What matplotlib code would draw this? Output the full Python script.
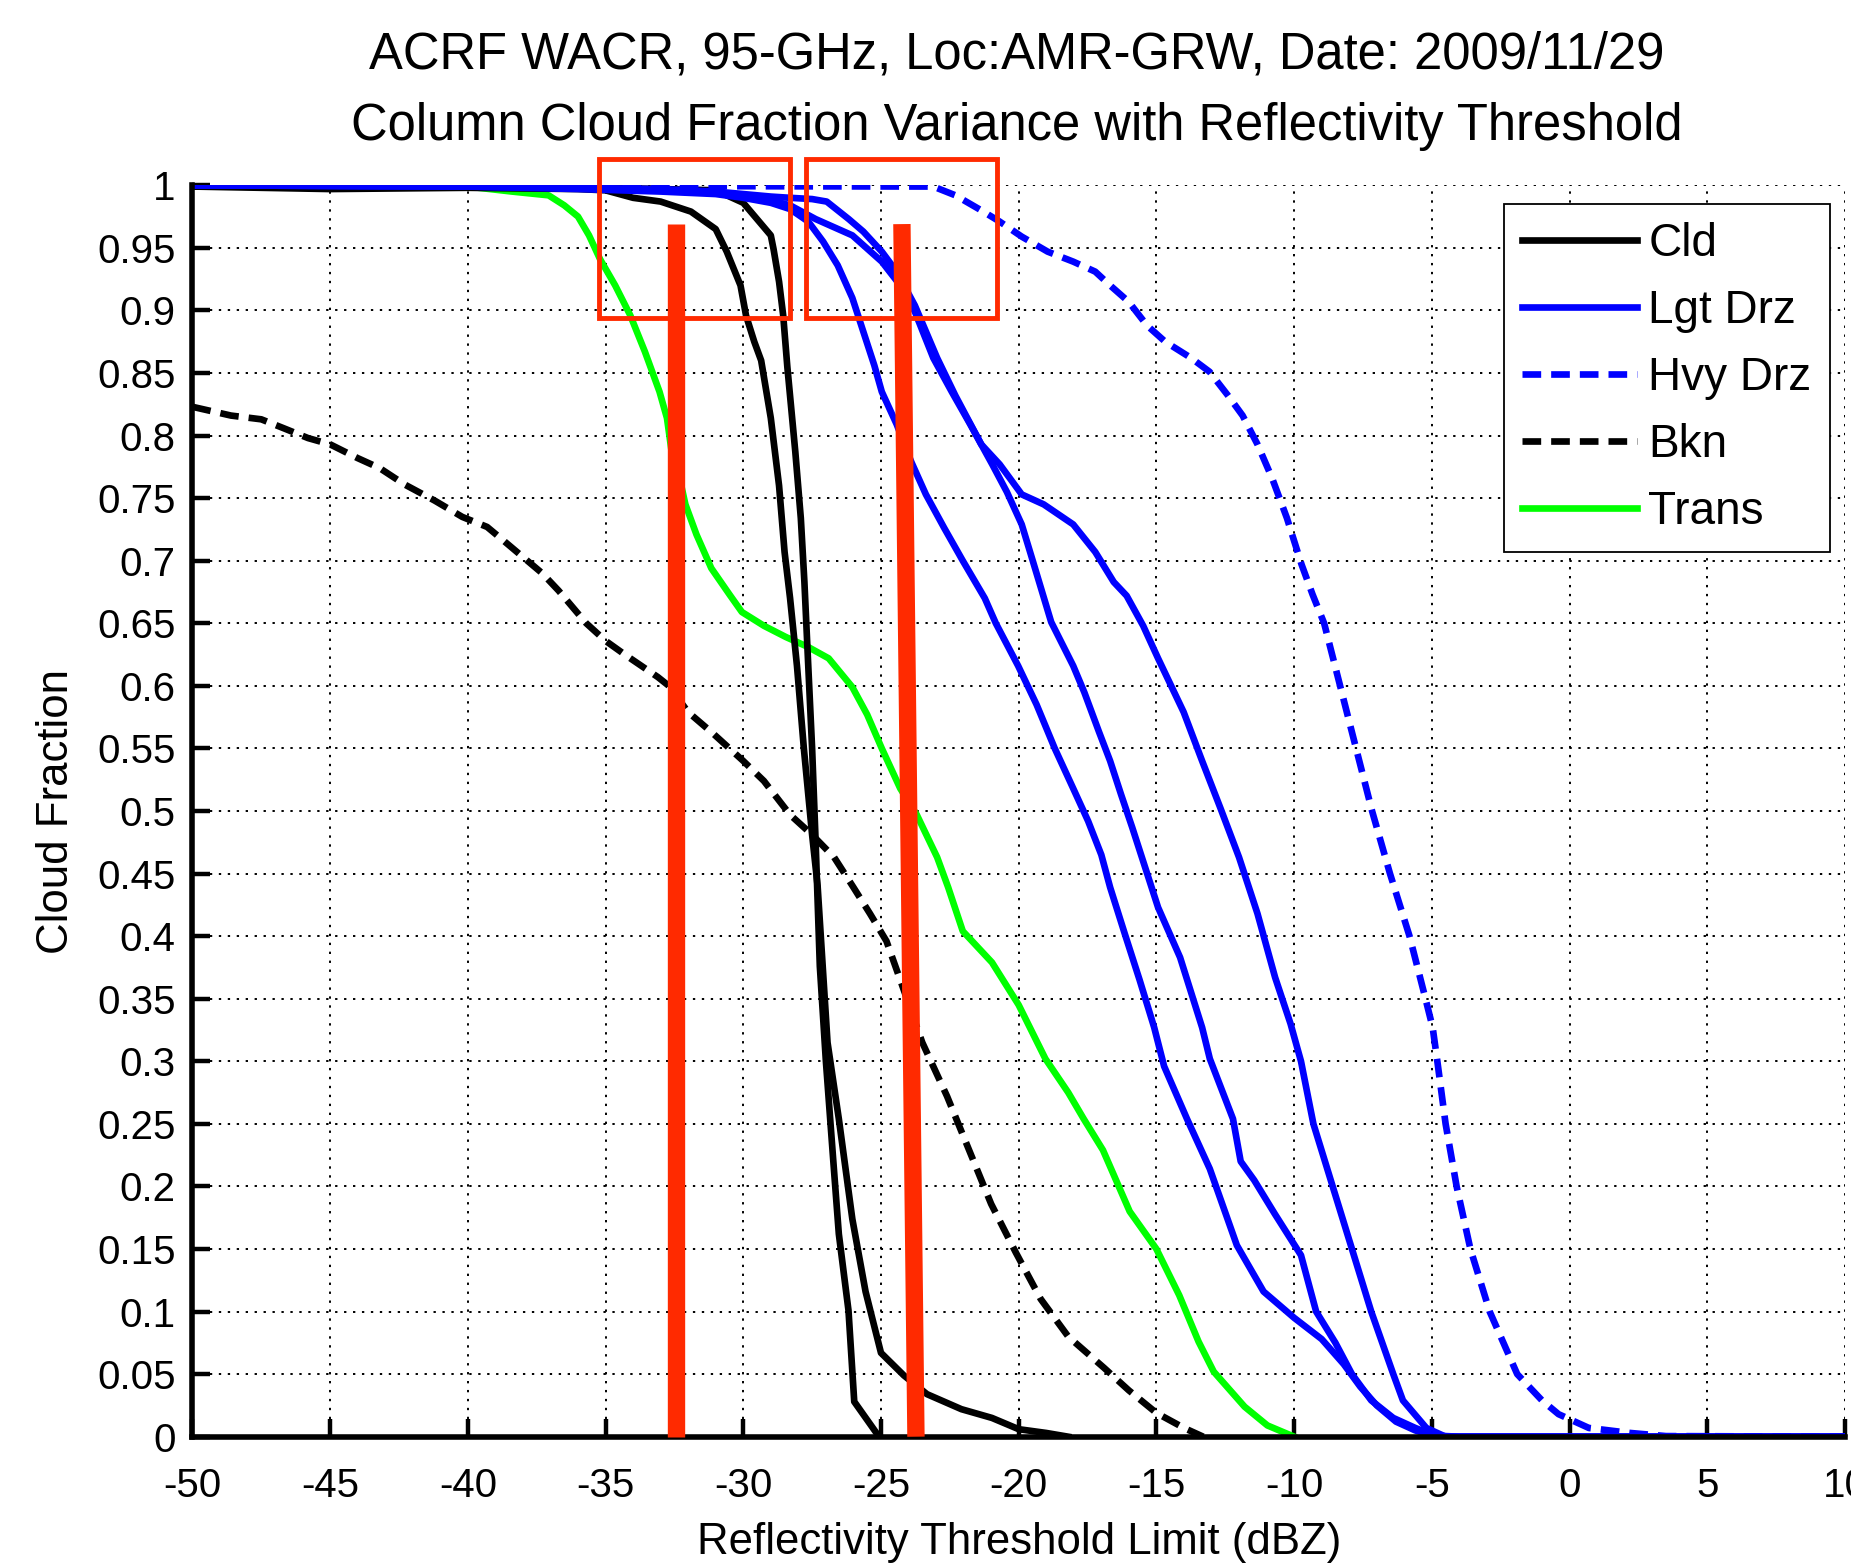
import numpy as np
import matplotlib
matplotlib.use('Agg')
import matplotlib.pyplot as plt
from matplotlib.patches import Rectangle

plt.rcParams['font.family'] = ['Liberation Sans', 'DejaVu Sans']

# Cld (two cases, black solid)
cld1_x = [-50, -45, -40, -36, -35, -34, -33, -31.9, -31, -30.6, -30.1, -29.9, -29.6, -29.35, -29.0, -28.7, -28.5, -28.3,
          -28.05, -27.8, -27.5, -27.3, -26.94, -26.53, -26.04, -25.56, -25.0, -24.17, -23.33, -22.08, -20.97, -20.0, -19.0, -18.2]
cld1_y = [0.999, 0.997, 0.998, 0.997, 0.996, 0.99, 0.987, 0.979, 0.965, 0.947, 0.92, 0.896, 0.875, 0.86, 0.814, 0.76, 0.707, 0.67,
          0.616, 0.55, 0.481, 0.44, 0.315, 0.254, 0.174, 0.116, 0.067, 0.049, 0.034, 0.022, 0.015, 0.006, 0.003, 0.0]
cld2_x = [-50, -45, -40, -35, -31, -30, -29.5, -29.0, -28.9, -28.7, -28.55, -28.4, -28.11, -27.91, -27.78, -27.64, -27.5,
          -27.38, -27.22, -27.0, -26.74, -26.53, -26.18, -25.97, -25.07]
cld2_y = [0.999, 0.999, 0.999, 0.998, 0.996, 0.986, 0.973, 0.96, 0.949, 0.923, 0.896, 0.855, 0.787, 0.734, 0.683, 0.616, 0.55,
          0.48, 0.376, 0.3, 0.223, 0.162, 0.101, 0.028, 0.0]

# Lgt Drz (three cases, blue solid)
lgt1_x = [-50, -40, -36, -33, -31, -30, -29, -28.3, -27.64, -27.1, -26.57, -26.04, -25.64, -25.24, -24.97, -24.43, -23.9,
          -23.37, -22.7, -22.03, -21.23, -20.83, -20.02, -19.35, -18.69, -18.02, -17.48, -17.0, -16.68, -16.15, -15.61,
          -15.08, -14.72, -13.89, -13.06, -12.08, -11.11, -10.0, -9.0, -8.2, -7.6, -7.0, -6.3, -5.6, -5.0, -4.0, 10]
lgt1_y = [1.0, 0.999, 0.997, 0.995, 0.993, 0.99, 0.986, 0.981, 0.971, 0.955, 0.936, 0.91, 0.883, 0.856, 0.835, 0.809, 0.779,
          0.753, 0.726, 0.7, 0.67, 0.65, 0.616, 0.585, 0.55, 0.518, 0.492, 0.465, 0.439, 0.402, 0.365,
          0.327, 0.296, 0.254, 0.214, 0.153, 0.116, 0.095, 0.078, 0.058, 0.04, 0.025, 0.012, 0.005, 0.001, 0.0, 0.0]
lgt2_x = [-50, -40, -36, -33, -31, -30, -29, -28.3, -27.37, -26.04, -24.97, -24.3, -23.77, -23.1, -22.43, -21.76, -20.96,
          -20.43, -19.89, -19.49, -18.82, -18.02, -17.62, -17.08, -16.68, -16.28, -15.88, -15.41, -14.94, -14.14, -13.34,
          -13.06, -12.22, -11.94, -11.45, -10.7, -9.75, -9.2, -8.5, -7.9, -7.2, -6.4, -5.6, -4.8, 10]
lgt2_y = [1.0, 0.999, 0.998, 0.996, 0.994, 0.991, 0.988, 0.984, 0.973, 0.96, 0.939, 0.92, 0.899, 0.862, 0.835, 0.809, 0.777,
          0.755, 0.729, 0.7, 0.651, 0.616, 0.595, 0.563, 0.54, 0.513, 0.487, 0.455, 0.423, 0.383, 0.327,
          0.302, 0.254, 0.22, 0.205, 0.178, 0.145, 0.1, 0.075, 0.05, 0.029, 0.015, 0.007, 0.0, 0.0]
lgt3_x = [-50, -40, -36, -33, -31, -30, -29, -28.3, -27.5, -26.97, -26.17, -25.64, -24.97, -24.43, -23.77, -22.96, -22.3,
          -21.36, -20.69, -19.89, -19.09, -18.02, -17.22, -16.55, -16.08, -15.48, -14.94, -14.01, -13.34, -12.67, -12.0,
          -11.33, -10.69, -10.13, -9.75, -9.3, -8.6, -7.9, -7.2, -6.4, -6.05, -5.2, -4.5, 10]
lgt3_y = [1.0, 0.999, 0.998, 0.997, 0.995, 0.993, 0.991, 0.99, 0.989, 0.987, 0.973, 0.963, 0.947, 0.931, 0.904, 0.862, 0.832,
          0.793, 0.777, 0.753, 0.745, 0.729, 0.707, 0.683, 0.672, 0.648, 0.622, 0.579, 0.54, 0.502, 0.463,
          0.418, 0.367, 0.33, 0.3, 0.25, 0.2, 0.15, 0.1, 0.05, 0.029, 0.007, 0.0, 0.0]

# Hvy Drz (blue dashed)
hvy_x = [-50, -23.1, -22.3, -21.36, -20.69, -19.89, -18.95, -18.02, -17.22, -16.68, -16.01, -15.34, -14.68, -13.74, -13.07,
         -12.4, -11.87, -11.33, -10.8, -10.26, -9.73, -9.33, -8.91, -8.33, -7.75, -7.17, -6.52, -5.81, -5.23, -4.97, -4.8,
         -4.5, -4.1, -3.6, -2.9, -2.3, -1.9, -1.0, -0.4, 0.7, 2.2, 3.5, 10]
hvy_y = [1.0, 0.999, 0.992, 0.98, 0.971, 0.959, 0.947, 0.939, 0.931, 0.92, 0.907, 0.888, 0.875, 0.862, 0.851,
         0.832, 0.816, 0.793, 0.766, 0.734, 0.697, 0.673, 0.65, 0.6, 0.55, 0.5, 0.45, 0.4, 0.35, 0.327, 0.3,
         0.25, 0.2, 0.15, 0.1, 0.07, 0.05, 0.029, 0.018, 0.007, 0.003, 0.0005, 0.0]

# Bkn (black dashed)
bkn_x = [-50, -48.6, -47.5, -46.7, -45.8, -45, -44, -43.2, -42.3, -41.2, -40.2, -39.3, -38.7, -38, -37.3, -36.7, -35.7, -35,
         -34.3, -33.1, -32.7, -32, -31.1, -30, -29.25, -28.3, -27.5, -26.7, -26.0, -25.4, -24.8, -24.3, -23.5, -22.6, -21.8,
         -21.0, -20.1, -19.2, -18.2, -16.9, -16.0, -15.0, -14.0, -13.3]
bkn_y = [0.823, 0.816, 0.813, 0.806, 0.798, 0.793, 0.782, 0.774, 0.761, 0.748, 0.735, 0.727, 0.716, 0.703, 0.69, 0.676, 0.65, 0.636,
         0.625, 0.607, 0.6, 0.579, 0.562, 0.54, 0.524, 0.497, 0.481, 0.463, 0.439, 0.418, 0.396, 0.365, 0.315, 0.272, 0.229,
         0.186, 0.147, 0.11, 0.08, 0.055, 0.037, 0.019, 0.007, 0.0]

# Trans (green)
trans_x = [-50, -40, -38.4, -37.07, -36.5, -36.0, -35.6, -35.2, -34.65, -34.1, -33.57, -33.04, -32.77, -32.6, -32.3, -32.1,
           -31.7, -31.16, -30.5, -30.05, -29.25, -28.45, -27.64, -26.9, -26.04, -25.5, -24.97, -24.3, -23.7, -22.96, -22.56,
           -22.03, -20.97, -20.0, -19.03, -18.2, -17.64, -16.94, -15.97, -15.0, -14.17, -13.47, -12.92, -11.8, -10.97, -10.0]
trans_y = [0.9995, 0.999, 0.995, 0.992, 0.984, 0.975, 0.96, 0.941, 0.92, 0.896, 0.867, 0.835, 0.814, 0.787, 0.765, 0.745,
           0.721, 0.694, 0.673, 0.659, 0.648, 0.639, 0.631, 0.622, 0.599, 0.577, 0.55, 0.518, 0.497, 0.463, 0.439,
           0.404, 0.379, 0.345, 0.302, 0.275, 0.254, 0.229, 0.18, 0.15, 0.113, 0.076, 0.052, 0.024, 0.009, 0.0]

legend_labels = ['Cld', 'Lgt Drz', 'Hvy Drz', 'Bkn', 'Trans']
x_ticks = list(range(-50, 11, 5))
y_ticks = [round(0.05 * i, 2) for i in range(21)]
y_ticklabels = ['0', '0.05', '0.1', '0.15', '0.2', '0.25', '0.3', '0.35', '0.4', '0.45', '0.5',
                '0.55', '0.6', '0.65', '0.7', '0.75', '0.8', '0.85', '0.9', '0.95', '1']

# red highlight marks (boxes: x0, x1, y0, y1 ; bars: x_bottom, x_top, y_top)
red_boxes = [(-35.25, -28.32, 0.894, 1.021), (-27.72, -20.78, 0.894, 1.021)]
red_bars = [(-32.43, -32.43, 0.969), (-23.73, -24.24, 0.969)]

fig = plt.figure(figsize=(18.51, 15.64), dpi=100)
ax = fig.add_axes([0.10394, 0.08139, 0.89281, 0.80013])

LW = 4.8
DASH = (0, (2.8, 1.5))
h_trans, = ax.plot(trans_x, trans_y, color='#00ff00', lw=LW, zorder=2)
h_bkn, = ax.plot(bkn_x, bkn_y, color='black', lw=LW, linestyle=DASH, zorder=2.1)
h_cld, = ax.plot(cld1_x, cld1_y, color='black', lw=LW, zorder=2.2)
ax.plot(cld2_x, cld2_y, color='black', lw=LW, zorder=2.2)
h_hvy, = ax.plot(hvy_x, hvy_y, color='#0000ff', lw=LW, linestyle=DASH, zorder=2.3)
h_lgt, = ax.plot(lgt1_x, lgt1_y, color='#0000ff', lw=LW, zorder=2.4)
ax.plot(lgt2_x, lgt2_y, color='#0000ff', lw=LW, zorder=2.4)
ax.plot(lgt3_x, lgt3_y, color='#0000ff', lw=LW, zorder=2.4)

ax.set_xlim(-50, 10)
ax.set_ylim(0, 1)
ax.set_xticks(x_ticks)
ax.set_xticklabels([str(v) for v in x_ticks])
ax.set_yticks(y_ticks)
ax.set_yticklabels(y_ticklabels)
ax.grid(True, color='black', linestyle=(0, (1.2, 3.4)), linewidth=1.4)
ax.tick_params(direction='in', length=13, width=3.2, labelsize=29)
ax.tick_params(axis='y', pad=12)
ax.tick_params(axis='x', pad=22)
for s in ['top', 'right']:
    ax.spines[s].set_visible(False)
for s in ['left', 'bottom']:
    ax.spines[s].set_linewidth(4)

ax.set_xlabel('Reflectivity Threshold Limit (dBZ)', fontsize=31.5)
ax.xaxis.set_label_coords(0.5, -0.068)
ax.set_ylabel('Cloud Fraction', fontsize=31.5)
ax.yaxis.set_label_coords(-0.07, 0.5)

fig.text(0.5495, 0.9648, 'ACRF WACR, 95-GHz, Loc:AMR-GRW, Date: 2009/11/29', fontsize=36.5, ha='center', va='center')
fig.text(0.5495, 0.9194, 'Column Cloud Fraction Variance with Reflectivity Threshold', fontsize=36.5, ha='center', va='center')

leg = ax.legend([h_cld, h_lgt, h_hvy, h_bkn, h_trans], legend_labels, loc='upper right',
                bbox_to_anchor=(0.9886, 0.8696), bbox_transform=fig.transFigure, fontsize=33,
                handlelength=2.5, handletextpad=0.25, labelspacing=0.5, borderpad=0.4, borderaxespad=0,
                fancybox=False, framealpha=1)
leg.get_frame().set_edgecolor('black')
leg.get_frame().set_linewidth(1.3)

for x0, x1, y0, y1 in red_boxes:
    ax.add_patch(Rectangle((x0, y0), x1 - x0, y1 - y0, fill=False, edgecolor='#ff2a00', lw=3.5, clip_on=False, zorder=10))
for xb, xt, yt in red_bars:
    ax.plot([xb, xt], [0, yt], color='#ff2a00', lw=12.5, solid_capstyle='butt', clip_on=False, zorder=11)

fig.savefig('out.png', dpi=100)
